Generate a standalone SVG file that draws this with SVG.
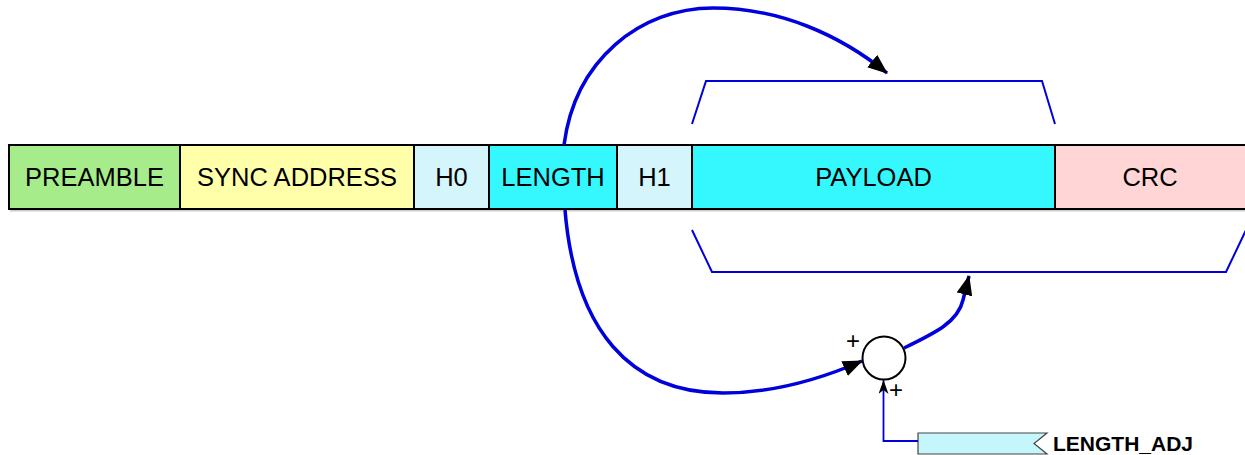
<svg xmlns="http://www.w3.org/2000/svg" width="1245" height="455" viewBox="0 0 1245 455">
<style>
.fld{stroke:#000;stroke-width:2}
.lbl{font-family:"Liberation Sans",Arial,sans-serif;font-size:25.5px;fill:#000;text-anchor:middle}
.brk{fill:none;stroke:#0000dd;stroke-width:2}
.cur{fill:none;stroke:#0000dd;stroke-width:3.5}
.thin{fill:none;stroke:#0000dd;stroke-width:1.8}
.plus{font-family:"Liberation Sans",Arial,sans-serif;font-size:24px;fill:#000;text-anchor:middle}
</style>
<defs>
<marker id="ah" markerUnits="userSpaceOnUse" markerWidth="20" markerHeight="16" viewBox="0 0 20 16" refX="19" refY="8" orient="auto">
<path d="M0,0 L20,8 L0,16 z" fill="#000"/>
</marker>
<marker id="ahs" markerUnits="userSpaceOnUse" markerWidth="14" markerHeight="10" viewBox="0 0 14 10" refX="14" refY="5" orient="auto">
<path d="M0,0 L14,5 L0,10 L4,5 z" fill="#000"/>
</marker>
</defs>
<rect x="9" y="146" width="1240" height="64" fill="#cccccc" transform="translate(1,1.5)"/>
<g id="preamble"><rect class="fld" x="9" y="145" width="171" height="64" fill="#a6ec8a"/><text class="lbl" x="94.5" y="186">PREAMBLE</text></g>
<g id="sync"><rect class="fld" x="180" y="145" width="234" height="64" fill="#ffffaa"/><text class="lbl" x="297" y="186">SYNC ADDRESS</text></g>
<g id="h0"><rect class="fld" x="414" y="145" width="75" height="64" fill="#d5f5fd"/><text class="lbl" x="451.5" y="186">H0</text></g>
<g id="length"><rect class="fld" x="489" y="145" width="128" height="64" fill="#35f8ff"/><text class="lbl" x="553" y="186">LENGTH</text></g>
<g id="h1"><rect class="fld" x="617" y="145" width="75" height="64" fill="#d5f5fd"/><text class="lbl" x="654.5" y="186">H1</text></g>
<g id="payload"><rect class="fld" x="692" y="145" width="363" height="64" fill="#35f8ff"/><text class="lbl" x="873.5" y="186">PAYLOAD</text></g>
<g id="crc"><rect class="fld" x="1055" y="145" width="200" height="64" fill="#ffd5d5"/><text class="lbl" x="1150" y="186">CRC</text></g>
<g id="bracket-top"><polyline class="brk" points="692,124 706,81 1042,81 1055,124"/></g>
<g id="bracket-bottom"><polyline class="brk" points="692,230 712,272 1226,272 1246,230"/></g>
<g id="sum"><circle cx="884" cy="358" r="21.5" fill="#fff" stroke="#000" stroke-width="2"/><text class="plus" x="853" y="349">+</text><text class="plus" x="896" y="398">+</text></g>
<g id="length-adj"><path d="M918,433 L1047,433 L1034,443.5 L1047,454 L918,454 z" fill="#c4f6fc" stroke="#444" stroke-width="1.2"/><text x="1053" y="451" font-family="Liberation Sans,Arial,sans-serif" font-size="21" font-weight="bold" fill="#000">LENGTH_ADJ</text></g>
<g id="connectors">
<path class="cur" d="M564,145 C575,60 640,8 713,8 C780,8 840,35 887,73" marker-end="url(#ah)"/>
<path class="cur" d="M565,210 C575,330 630,393 723,393 C780,393 830,375 862,361" marker-end="url(#ah)"/>
<path class="cur" d="M904,348 C935,333 958,322 963,300 L969,276" marker-end="url(#ah)"/>
<path class="thin" d="M918,441 L883.5,441 L883.5,380" marker-end="url(#ahs)"/>
</g>
</svg>
